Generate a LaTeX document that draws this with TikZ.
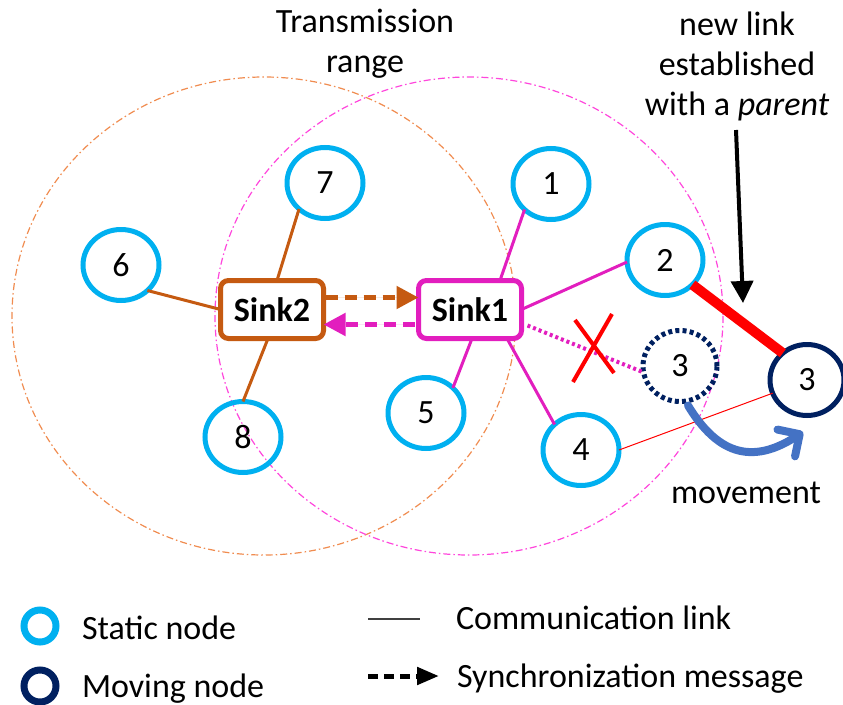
\documentclass[tikz,border=0pt]{standalone}
\usepackage{fontspec}
\setmainfont{Carlito}
\usetikzlibrary{arrows.meta,shapes.geometric}

\definecolor{staticblue}{HTML}{00B0F0}
\definecolor{movenavy}{HTML}{002060}
\definecolor{sinkbrown}{HTML}{C55A11}
\definecolor{sinkmag}{RGB}{226,30,190}
\definecolor{rangeorange}{RGB}{240,140,80}
\definecolor{rangemag}{RGB}{255,70,220}
\definecolor{moveblue}{HTML}{4472C4}
\definecolor{linkgray}{HTML}{404040}

\begin{document}
\begin{tikzpicture}[x=1pt,y=-1pt,
  every node/.style={font=\fontsize{34}{41}\selectfont, inner sep=0pt, outer sep=0pt},
  staticnode/.style={ellipse, draw=staticblue, line width=5pt,
    minimum width=76pt, minimum height=71pt},
  movingnode/.style={ellipse, draw=movenavy, line width=5pt,
    minimum width=74pt, minimum height=71pt},
  oldnode/.style={movingnode, dash pattern=on 4pt off 3.2pt},
  sinkbox/.style={rectangle, rounded corners=8pt, line width=5pt, fill=white,
    minimum width=103pt, minimum height=58pt,
    font=\fontsize{34}{41}\selectfont\bfseries},
  rangeline/.style={line width=1.2pt, dash pattern=on 7pt off 3pt on 1.5pt off 3pt},
  brownlink/.style={draw=sinkbrown, line width=3pt},
  maglink/.style={draw=sinkmag, line width=3pt},
  syncmsg/.style={line width=5pt, dash pattern=on 12pt off 7pt,
    -{Triangle[length=22pt,width=22pt]}},
  lbl/.style={anchor=base},
  legtext/.style={anchor=base west},
  legring/.style={circle, line width=7pt, minimum size=32pt},
]
\useasboundingbox (0,0) rectangle (843,704);

% transmission ranges of the two sinks
\draw[rangeline, draw=rangeorange] (264,316) ellipse [x radius=252, y radius=239];
\draw[rangeline, draw=rangemag] (469,316) ellipse [x radius=254, y radius=239];

% sinks
\node[sinkbox, draw=sinkbrown] (s2) at (272,309.5) {Sink2};
\node[sinkbox, draw=sinkmag]   (s1) at (470,309.5) {Sink1};

% static nodes
\node[staticnode] (n7) at (325,183) {7};
\node[staticnode] (n6) at (121,265) {6};
\node[staticnode] (n8) at (243,437) {8};
\node[staticnode] (n1) at (551,184) {1};
\node[staticnode] (n2) at (665,260) {2};
\node[staticnode] (n5) at (426,413) {5};
\node[staticnode] (n4) at (581,450) {4};

% moving node: old and new positions
\node[oldnode]    (n3o) at (680,366) {3};
\node[movingnode] (n3)  at (807,380) {3};

% communication links of Sink2
\draw[brownlink] (n7.225) -- ([xshift=5pt]s2.north);
\draw[brownlink] (n6.-44) -- (s2.west);
\draw[brownlink] ([xshift=-4pt]s2.south) -- (n8.north);

% communication links of Sink1
\draw[maglink] (n1.224) -- ([xshift=30pt]s1.north);
\draw[maglink] (n2.183) -- (s1.east);
\draw[maglink] ([xshift=2pt]s1.south) -- (n5.43);
\draw[maglink] ([xshift=37pt]s1.south) -- (n4.136);

% broken link to the old position of node 3
\draw[draw=sinkmag, line width=4pt, dash pattern=on 3pt off 3pt]
  ([xshift=6pt,yshift=-16pt]s1.east) -- (n3o.190);
\draw[red, line width=4pt] (575,320) -- (614,373) (612,314) -- (573,382);

% new links of node 3
\draw[red, line width=10pt] (n2.-42) -- (n3.132);
\draw[red, line width=1pt] (n4.east) -- (n3.201);

% synchronization messages between the sinks
\draw[syncmsg, draw=sinkbrown, fill=sinkbrown]
  ([xshift=2pt,yshift=12pt]s2.east) -- ([yshift=12pt]s1.west);
\draw[syncmsg, draw=sinkmag, fill=sinkmag]
  ([xshift=-4pt,yshift=-15pt]s1.west) -- ([yshift=-15pt]s2.east);

% movement of node 3
\draw[moveblue, line width=8pt, line cap=round,
  -{Straight Barb[length=16pt,width=32pt,round]}]
  ([xshift=8pt,yshift=-4pt]n3o.south) .. controls (712,445) and (745,470) .. (803,432);

% labels
\node[lbl] (trA) at (365,32) {Transmission};
\node[lbl] (trB) at (365,72) {range};
\node[lbl] (nlA) at (737,35) {new link};
\node[lbl] (nlB) at (737,75) {established};
\node[lbl] (nlC) at (737,115) {with a \textit{parent}};
\node[lbl] (mv)  at (746,503) {movement};

\coordinate (newtop) at (736,130);
\coordinate (newtip) at (743,303);
\draw[line width=4pt, -{Triangle[length=22pt,width=22pt]}] (newtop) -- (newtip);

% legend
\node[legring, draw=staticblue] (lgs) at (40,626) {};
\node[legtext] (lgst) at (82,639) {Static node};
\node[legring, draw=movenavy] (lgm) at (40,686) {};
\node[legtext] (lgmt) at (82,697) {Moving node};

\coordinate (lcA) at (368,619);
\coordinate (lcB) at (420,619);
\draw[linkgray, line width=1.3pt] (lcA) -- (lcB);
\node[legtext] (lgct) at (456,629) {Communication link};

\coordinate (lsA) at (368,676);
\coordinate (lsB) at (439,676);
\draw[line width=5pt, dash pattern=on 10pt off 6pt,
  -{Triangle[length=22pt,width=17pt]}] (lsA) -- (lsB);
\node[legtext] (lgyt) at (457,687) {Synchronization message};
\end{tikzpicture}
\end{document}
